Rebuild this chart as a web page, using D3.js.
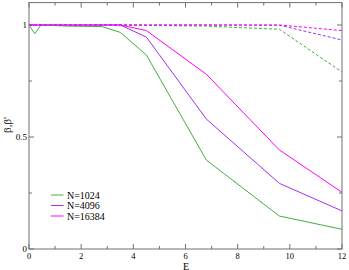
<!DOCTYPE html>
<html><head><meta charset="utf-8">
<script src="https://cdn.jsdelivr.net/npm/d3@7"></script>
<style>body{margin:0;background:#fff}svg{display:block}</style>
</head><body>
<script>
const E = [0, 0.22, 0.46, 1.5, 2.8, 3.5, 4.5, 6.8, 9.6, 12];
const beta1024  = [1.0, 0.961, 1.0, 0.995, 0.993, 0.967, 0.866, 0.397, 0.147, 0.088];
const beta4096  = [1.0, 1.0, 1.0, 1.0, 1.0, 1.0, 0.946, 0.58, 0.293, 0.17];
const beta16384 = [1.0, 1.0, 1.0, 1.0, 1.0, 1.0, 0.975, 0.78, 0.442, 0.253];
const betaP1024  = [1.0, 1.0, 1.0, 1.0, 1.0, 1.0, 0.998, 0.995, 0.981, 0.79];
const betaP4096  = [1.0, 1.0, 1.0, 1.0, 1.0, 1.0, 1.0, 1.0, 0.999, 0.933];
const betaP16384 = [1.0, 1.0, 1.0, 1.0, 1.0, 1.0, 1.0, 1.0, 1.0, 0.975];
const legendLabels = ["N=1024", "N=4096", "N=16384"];
const xTicks = [0, 2, 4, 6, 8, 10, 12];
const yTicks = [0, 0.5, 1];

const W = 349, H = 270;
const colors = ["#40b040", "#a030f0", "#ff00ff"];
const svg = d3.select("body").append("svg").attr("width", W).attr("height", H);
const x = d3.scaleLinear().domain([0, 12]).range([29, 342]);
const y = d3.scaleLinear().domain([0, 1.1]).range([249, 2.6]);
const font = "Liberation Serif, Times New Roman, serif";
const axisCol = "#707070";

const g = svg.append("g");
const xMinor = d3.range(0, 13, 1), yMinor = d3.range(0, 1.1, 0.25);
xMinor.forEach(v => {
  const major = v % 2 === 0, len = major ? 5 : 3;
  g.append("line").attr("x1", x(v)).attr("x2", x(v)).attr("y1", y(0)).attr("y2", y(0) - len).attr("stroke", axisCol);
  g.append("line").attr("x1", x(v)).attr("x2", x(v)).attr("y1", y(1.1)).attr("y2", y(1.1) + len).attr("stroke", axisCol);
});
yMinor.forEach(v => {
  const major = Math.abs(v * 2 - Math.round(v * 2)) < 1e-9, len = major ? 5 : 3;
  g.append("line").attr("y1", y(v)).attr("y2", y(v)).attr("x1", x(0)).attr("x2", x(0) + len).attr("stroke", axisCol);
  g.append("line").attr("y1", y(v)).attr("y2", y(v)).attr("x1", x(12)).attr("x2", x(12) - len).attr("stroke", axisCol);
});
svg.append("rect").attr("x", x(0)).attr("y", y(1.1)).attr("width", x(12) - x(0)).attr("height", y(0) - y(1.1))
  .attr("fill", "none").attr("stroke", axisCol).attr("stroke-width", 1);

xTicks.forEach(v => svg.append("text").attr("x", x(v)).attr("y", 259).attr("text-anchor", "middle")
  .attr("font-family", font).attr("font-size", 8.5).text(v));
yTicks.forEach(v => svg.append("text").attr("x", x(0) - 2).attr("y", y(v) + 3).attr("text-anchor", "end")
  .attr("font-family", font).attr("font-size", 9).text(v));

svg.append("text").attr("x", 186).attr("y", 269.5).attr("text-anchor", "middle")
  .attr("font-family", font).attr("font-size", 10).text("E");
svg.append("text").attr("transform", "translate(11,125) rotate(-90)").attr("text-anchor", "middle")
  .attr("font-family", font).attr("font-size", 11).text("β,β'");

const line = d3.line().x((d, i) => x(E[i])).y(d => y(d));
[betaP1024, betaP4096, betaP16384].forEach((s, i) =>
  svg.append("path").attr("d", line(s)).attr("fill", "none").attr("stroke", colors[i]).attr("stroke-width", 1).attr("stroke-dasharray", "3,2"));
[beta1024, beta4096, beta16384].forEach((s, i) =>
  svg.append("path").attr("d", line(s)).attr("fill", "none").attr("stroke", colors[i]).attr("stroke-width", 1));

legendLabels.forEach((t, i) => {
  const ly = 195 + i * 10.5;
  svg.append("line").attr("x1", 51).attr("x2", 63.5).attr("y1", ly).attr("y2", ly).attr("stroke", colors[i]);
  svg.append("text").attr("x", 67).attr("y", ly + 3.5).attr("font-family", font).attr("font-size", 10).text(t);
});
</script>
</body></html>
